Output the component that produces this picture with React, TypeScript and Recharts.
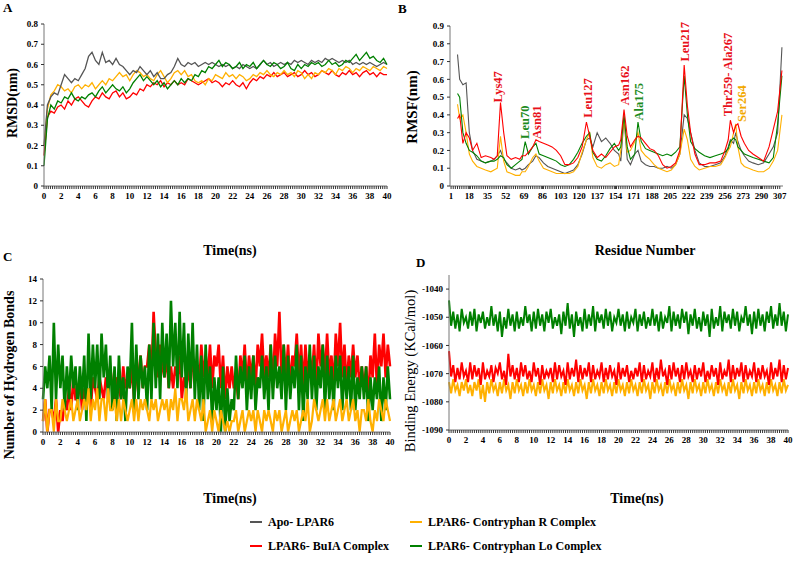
import React from "react";
import { LineChart, Line, XAxis, YAxis, ReferenceDot } from "recharts";

const FONT = '"Liberation Serif", "Times New Roman", serif';

const C_APO = "#555555";
const C_BUIA = "#ff0000";
const C_R = "#ffb000";
const C_LO = "#008000";

// ---- A: RMSD (nm), one value every 0.4 ns, 0..40 ns
const RMSD_STEP = 0.4;
const RMSD_APO = [
  0.2, 0.4, 0.44, 0.46, 0.45, 0.5, 0.55, 0.53, 0.51, 0.53,
  0.52, 0.55, 0.58, 0.64, 0.66, 0.62, 0.6, 0.66, 0.61, 0.62,
  0.6, 0.63, 0.6, 0.59, 0.57, 0.55, 0.57, 0.56, 0.59, 0.57,
  0.55, 0.57, 0.54, 0.56, 0.53, 0.53, 0.55, 0.56, 0.59, 0.63,
  0.6, 0.59, 0.61, 0.6, 0.61, 0.59, 0.6, 0.61, 0.6, 0.61,
  0.6, 0.59, 0.6, 0.59, 0.6, 0.58, 0.59, 0.58, 0.6, 0.59,
  0.58, 0.59, 0.58, 0.6, 0.62, 0.6, 0.61, 0.59, 0.6, 0.61,
  0.6, 0.61, 0.6, 0.62, 0.61, 0.62, 0.61, 0.6, 0.62, 0.61,
  0.62, 0.61, 0.63, 0.62, 0.63, 0.62, 0.61, 0.62, 0.61, 0.62,
  0.6, 0.61, 0.6, 0.61, 0.6, 0.61, 0.6, 0.59, 0.6, 0.61,
  0.6,
];
const RMSD_BUIA = [
  0.15, 0.34, 0.37, 0.36, 0.39, 0.4, 0.38, 0.42, 0.4, 0.43,
  0.44, 0.42, 0.4, 0.39, 0.42, 0.44, 0.43, 0.46, 0.44, 0.43,
  0.46, 0.47, 0.44, 0.46, 0.43, 0.44, 0.46, 0.45, 0.48, 0.47,
  0.5, 0.49, 0.51, 0.5, 0.52, 0.49, 0.51, 0.5, 0.52, 0.5,
  0.51, 0.5, 0.53, 0.52, 0.51, 0.5, 0.51, 0.52, 0.53, 0.51,
  0.52, 0.51, 0.49, 0.51, 0.5, 0.52, 0.5, 0.49, 0.51, 0.48,
  0.51, 0.53, 0.52, 0.54, 0.53, 0.55, 0.54, 0.56, 0.54, 0.55,
  0.56, 0.54, 0.55, 0.56, 0.54, 0.55, 0.57, 0.55, 0.56, 0.54,
  0.55, 0.57, 0.56, 0.55, 0.57, 0.55, 0.54, 0.56, 0.55, 0.57,
  0.55, 0.56, 0.54, 0.56, 0.57, 0.55, 0.56, 0.54, 0.56, 0.55,
  0.55,
];
const RMSD_R = [
  0.2, 0.38, 0.45, 0.47, 0.5, 0.49, 0.47, 0.48, 0.46, 0.49,
  0.5, 0.48, 0.5, 0.49, 0.51, 0.48, 0.5, 0.52, 0.5, 0.53,
  0.52, 0.54, 0.56, 0.54, 0.55, 0.52, 0.55, 0.57, 0.56, 0.54,
  0.55, 0.53, 0.52, 0.55, 0.57, 0.54, 0.51, 0.53, 0.56, 0.57,
  0.55, 0.57, 0.54, 0.55, 0.52, 0.51, 0.52, 0.5, 0.53, 0.52,
  0.55, 0.54, 0.53, 0.56, 0.54, 0.55, 0.53, 0.55, 0.54, 0.52,
  0.53, 0.55, 0.54, 0.56, 0.55, 0.57, 0.55, 0.54, 0.56, 0.55,
  0.57, 0.55, 0.56, 0.54, 0.57, 0.56, 0.53, 0.55, 0.53, 0.56,
  0.55, 0.57, 0.56, 0.58, 0.57, 0.55, 0.58, 0.57, 0.59, 0.58,
  0.56, 0.58, 0.57, 0.59, 0.58, 0.57, 0.59, 0.58, 0.57, 0.59,
  0.58,
];
const RMSD_LO = [
  0.1, 0.33, 0.4, 0.38, 0.42, 0.41, 0.44, 0.43, 0.46, 0.43,
  0.42, 0.44, 0.43, 0.45, 0.46, 0.44, 0.47, 0.49, 0.46, 0.48,
  0.5, 0.48, 0.47, 0.49, 0.46, 0.48, 0.51, 0.53, 0.55, 0.52,
  0.54, 0.52, 0.5, 0.52, 0.49, 0.51, 0.48, 0.5, 0.52, 0.5,
  0.53, 0.51, 0.53, 0.52, 0.55, 0.54, 0.57, 0.56, 0.59, 0.58,
  0.6, 0.62, 0.59, 0.61, 0.6, 0.58, 0.59, 0.61, 0.58, 0.6,
  0.59, 0.61, 0.58, 0.6, 0.62, 0.6, 0.59, 0.61, 0.6, 0.58,
  0.59, 0.61, 0.58, 0.57, 0.6, 0.58, 0.6, 0.59, 0.61, 0.6,
  0.61, 0.59, 0.6, 0.62, 0.6, 0.61, 0.59, 0.6, 0.62, 0.61,
  0.63, 0.65, 0.62, 0.64, 0.66, 0.63, 0.64, 0.62, 0.61, 0.63,
  0.6,
];
const RMSD_TICKS = [0, 0.1, 0.2, 0.3, 0.4, 0.5, 0.6, 0.7, 0.8];

// ---- B: RMSF (nm) per residue
const RESIDUES = [
  7, 9, 12, 15, 18, 21, 25, 29, 33, 38,
  41, 44, 47, 50, 53, 57, 61, 65, 67, 70,
  73, 77, 80, 83, 87, 91, 95, 99, 103, 107,
  111, 115, 119, 123, 127, 130, 133, 137, 141, 145,
  149, 153, 157, 159, 162, 165, 168, 172, 175, 178,
  182, 186, 190, 194, 198, 202, 206, 210, 214, 218,
  221, 224, 228, 232, 237, 242, 247, 252, 256, 259,
  261, 264, 266, 268, 271, 274, 278, 282, 287, 292,
  297, 301, 305, 309,
];
const RMSF_APO = [
  0.74, 0.6, 0.57, 0.58, 0.3, 0.2, 0.15, 0.14, 0.13, 0.14,
  0.15, 0.17, 0.2, 0.15, 0.13, 0.1, 0.09, 0.1, 0.09, 0.1,
  0.12, 0.14, 0.17, 0.16, 0.13, 0.11, 0.1, 0.09, 0.08, 0.07,
  0.08, 0.09, 0.12, 0.18, 0.26, 0.27, 0.22, 0.3, 0.25, 0.27,
  0.24, 0.2, 0.18, 0.14, 0.38, 0.15, 0.12, 0.18, 0.2, 0.14,
  0.12, 0.11, 0.11, 0.1, 0.1, 0.11, 0.1, 0.12, 0.18, 0.4,
  0.38, 0.3, 0.2, 0.13, 0.11, 0.11, 0.12, 0.13, 0.17, 0.22,
  0.26, 0.24, 0.3, 0.25, 0.2, 0.17, 0.14, 0.13, 0.12, 0.13,
  0.18, 0.22, 0.3, 0.78,
];
const RMSF_BUIA = [
  0.38, 0.4, 0.24, 0.3, 0.27, 0.2, 0.24, 0.16, 0.17, 0.16,
  0.15, 0.17, 0.47, 0.3, 0.17, 0.15, 0.16, 0.15, 0.17, 0.17,
  0.19, 0.22, 0.26, 0.25, 0.24, 0.23, 0.22, 0.2, 0.17, 0.12,
  0.12, 0.13, 0.16, 0.22, 0.36, 0.28, 0.2, 0.16, 0.18, 0.16,
  0.19, 0.22, 0.23, 0.26, 0.43, 0.28, 0.22, 0.26, 0.28, 0.27,
  0.24, 0.21, 0.2, 0.17, 0.12, 0.1, 0.11, 0.13, 0.2, 0.68,
  0.45, 0.3, 0.18, 0.12, 0.12, 0.13, 0.13, 0.14, 0.2, 0.26,
  0.37, 0.3, 0.34, 0.35, 0.28, 0.24, 0.2, 0.18, 0.16, 0.14,
  0.22, 0.32, 0.42, 0.65,
];
const RMSF_R = [
  0.46, 0.38, 0.4, 0.3, 0.18, 0.14, 0.11, 0.1, 0.09, 0.08,
  0.09, 0.1, 0.28, 0.14, 0.08, 0.07, 0.06, 0.06, 0.08, 0.08,
  0.11, 0.16, 0.18, 0.14, 0.1, 0.09, 0.08, 0.07, 0.07, 0.07,
  0.07, 0.08, 0.11, 0.19, 0.26, 0.3, 0.16, 0.11, 0.1, 0.12,
  0.13, 0.11, 0.12, 0.2, 0.38, 0.19, 0.2, 0.25, 0.3, 0.2,
  0.17, 0.15, 0.12, 0.1, 0.09, 0.08, 0.09, 0.12, 0.18, 0.32,
  0.26, 0.15, 0.11, 0.09, 0.1, 0.11, 0.11, 0.12, 0.16, 0.2,
  0.22, 0.3, 0.35, 0.22, 0.13, 0.11, 0.1, 0.09, 0.08, 0.08,
  0.1, 0.14, 0.2, 0.4,
];
const RMSF_LO = [
  0.52, 0.5, 0.3, 0.24, 0.2, 0.19, 0.17, 0.14, 0.13, 0.14,
  0.14, 0.15, 0.17, 0.16, 0.12, 0.1, 0.12, 0.14, 0.15, 0.25,
  0.18, 0.22, 0.24, 0.18, 0.17, 0.16, 0.15, 0.14, 0.12, 0.11,
  0.12, 0.15, 0.19, 0.24, 0.28, 0.3, 0.19, 0.15, 0.14, 0.17,
  0.21, 0.24, 0.2, 0.22, 0.4, 0.22, 0.15, 0.18, 0.36, 0.25,
  0.21, 0.2, 0.19, 0.18, 0.17, 0.18, 0.17, 0.19, 0.22, 0.62,
  0.4, 0.25, 0.21, 0.19, 0.17, 0.16, 0.17, 0.18, 0.19, 0.21,
  0.25, 0.27, 0.26, 0.22, 0.2, 0.18, 0.17, 0.16, 0.15, 0.14,
  0.13, 0.16, 0.35, 0.62,
];
const RMSF_TICKS = [0, 0.1, 0.2, 0.3, 0.4, 0.5, 0.6, 0.7, 0.8, 0.9];
const RESIDUE_LABELS = [1, 18, 35, 52, 69, 86, 103, 120, 137, 154, 171, 188, 205, 222, 239, 256, 273, 290, 307];

// peak annotations: residue, RMSF at the foot of the text, which complex
const PEAKS = [
  { res: 44.4, val: 0.47, text: "Lys47", key: "bu" },
  { res: 69.8, val: 0.265, text: "Leu70", key: "lo" },
  { res: 80.7, val: 0.265, text: "Asn81", key: "bu" },
  { res: 128.2, val: 0.384, text: "Leu127", key: "bu" },
  { res: 163, val: 0.455, text: "Asn162", key: "bu" },
  { res: 176.3, val: 0.368, text: "Ala175", key: "lo" },
  { res: 218.8, val: 0.7, text: "Leu217", key: "bu" },
  { res: 259.2, val: 0.392, text: "Thr259- Ala267", key: "bu" },
  { res: 271.6, val: 0.36, text: "Ser264", key: "r" },
];

// ---- C: number of hydrogen bonds, one value every 0.25 ns
const HB_STEP = 0.25;
const HB_LO = [
  3, 6, 4, 7, 2, 10, 3, 8, 4, 7, 2, 6, 3, 7, 4, 6, 2, 6, 3, 7,
  1, 9, 3, 8, 4, 8, 3, 9, 5, 8, 3, 7, 2, 6, 1, 7, 3, 5, 1, 6,
  4, 10, 2, 8, 3, 7, 4, 6, 2, 8, 3, 10, 4, 9, 3, 10, 5, 9, 4, 12,
  6, 10, 4, 11, 5, 10, 3, 9, 4, 10, 3, 8, 2, 7, 1, 8, 3, 6, 1, 5,
  2, 5, 0, 6, 0, 4, 1, 3, 2, 7, 3, 6, 4, 7, 2, 6, 3, 7, 2, 5,
  4, 7, 3, 6, 2, 8, 3, 7, 4, 6, 3, 8, 2, 7, 3, 6, 4, 8, 2, 7,
  1, 6, 3, 8, 3, 7, 2, 6, 4, 8, 2, 7, 3, 6, 2, 7, 4, 7, 2, 6,
  3, 6, 2, 7, 2, 5, 3, 6, 3, 6, 1, 5, 2, 5, 3, 6, 1, 5, 2, 6,
  3,
];
const HB_BUIA = [
  1, 3, 0, 2, 2, 1, 3, 0, 2, 1, 3, 2, 4, 2, 5, 3, 3, 5, 2, 4,
  3, 4, 2, 5, 4, 3, 5, 4, 3, 5, 4, 6, 4, 3, 5, 4, 3, 6, 4, 5,
  4, 6, 3, 5, 5, 7, 4, 6, 6, 8, 5, 11, 7, 5, 8, 6, 5, 7, 4, 6,
  4, 6, 5, 7, 3, 5, 4, 6, 4, 7, 5, 6, 4, 8, 5, 7, 5, 8, 4, 7,
  6, 8, 4, 7, 3, 6, 4, 6, 4, 5, 3, 7, 5, 8, 4, 7, 5, 7, 4, 8,
  6, 9, 5, 7, 5, 8, 4, 9, 6, 11, 5, 8, 5, 8, 4, 7, 6, 9, 5, 8,
  4, 8, 5, 7, 5, 8, 4, 9, 6, 8, 5, 9, 5, 7, 4, 9, 6, 10, 5, 8,
  4, 7, 5, 8, 5, 7, 4, 6, 4, 6, 3, 7, 5, 9, 4, 8, 6, 9, 5, 8,
  6,
];
const HB_R = [
  1, 3, 0, 2, 2, 0, 3, 1, 1, 3, 2, 1, 2, 3, 1, 2, 3, 1, 2, 3,
  2, 4, 1, 3, 2, 4, 1, 3, 3, 1, 4, 2, 2, 3, 1, 3, 1, 3, 2, 1,
  2, 3, 1, 3, 1, 3, 2, 3, 2, 1, 3, 2, 3, 1, 2, 3, 2, 3, 1, 3,
  2, 4, 1, 3, 3, 2, 4, 1, 2, 3, 1, 3, 2, 1, 3, 0, 1, 2, 0, 2,
  1, 0, 2, 1, 0, 1, 0, 1, 1, 2, 0, 1, 2, 0, 1, 2, 1, 2, 0, 2,
  1, 0, 2, 1, 2, 1, 0, 2, 1, 2, 0, 1, 2, 0, 1, 2, 1, 2, 0, 1,
  2, 1, 3, 0, 1, 3, 2, 1, 2, 3, 1, 3, 1, 2, 3, 1, 2, 3, 1, 2,
  3, 1, 2, 3, 1, 2, 0, 2, 2, 1, 3, 1, 0, 2, 1, 3, 2, 1, 3, 2,
  1,
];
const HB_TICKS = [0, 2, 4, 6, 8, 10, 12, 14];

// ---- D: binding energy (KCal/mol), one value every 0.25 ns
const BE_STEP = 0.25;
const BE_LO = [
  -1044, -1053, -1048, -1054, -1049, -1055, -1047, -1052, -1050, -1054, -1048, -1053, -1047, -1055, -1049, -1052,
  -1048, -1054, -1050, -1053, -1046, -1053, -1049, -1055, -1048, -1057, -1050, -1054, -1047, -1053, -1049, -1055,
  -1048, -1054, -1050, -1053, -1046, -1052, -1049, -1055, -1048, -1054, -1047, -1053, -1049, -1055, -1048, -1052,
  -1047, -1054, -1050, -1053, -1049, -1056, -1048, -1053, -1045, -1054, -1049, -1057, -1048, -1053, -1050, -1055,
  -1047, -1054, -1049, -1053, -1046, -1055, -1048, -1052, -1049, -1054, -1047, -1053, -1048, -1055, -1050, -1052,
  -1047, -1053, -1049, -1055, -1048, -1054, -1050, -1052, -1047, -1055, -1049, -1053, -1048, -1054, -1050, -1053,
  -1047, -1053, -1049, -1055, -1048, -1054, -1050, -1052, -1046, -1055, -1048, -1053, -1049, -1054, -1047, -1052,
  -1048, -1056, -1049, -1053, -1047, -1054, -1050, -1055, -1048, -1053, -1049, -1057, -1047, -1054, -1050, -1053,
  -1046, -1055, -1048, -1052, -1049, -1054, -1047, -1053, -1048, -1055, -1050, -1052, -1046, -1053, -1049, -1056,
  -1048, -1054, -1047, -1053, -1049, -1055, -1048, -1052, -1046, -1054, -1049, -1053, -1045, -1053, -1048, -1055,
  -1049,
];
const BE_BUIA = [
  -1062, -1071, -1067, -1073, -1068, -1072, -1066, -1071, -1069, -1073, -1066, -1072, -1067, -1071, -1068, -1074,
  -1066, -1072, -1069, -1071, -1067, -1073, -1068, -1070, -1066, -1072, -1069, -1074, -1063, -1071, -1067, -1072,
  -1068, -1073, -1066, -1071, -1067, -1072, -1069, -1073, -1066, -1071, -1068, -1074, -1067, -1072, -1069, -1071,
  -1068, -1073, -1066, -1072, -1067, -1071, -1069, -1074, -1066, -1072, -1068, -1071, -1065, -1073, -1067, -1072,
  -1068, -1071, -1066, -1073, -1067, -1072, -1069, -1071, -1066, -1073, -1068, -1072, -1067, -1071, -1069, -1074,
  -1066, -1072, -1068, -1071, -1067, -1073, -1069, -1072, -1068, -1071, -1066, -1073, -1067, -1072, -1069, -1071,
  -1066, -1073, -1068, -1072, -1065, -1071, -1069, -1074, -1067, -1072, -1066, -1071, -1068, -1073, -1067, -1072,
  -1066, -1071, -1069, -1073, -1067, -1072, -1068, -1071, -1066, -1073, -1069, -1072, -1067, -1071, -1068, -1074,
  -1066, -1072, -1069, -1071, -1065, -1073, -1067, -1072, -1068, -1071, -1066, -1073, -1067, -1072, -1069, -1071,
  -1066, -1073, -1068, -1072, -1067, -1071, -1069, -1074, -1066, -1072, -1068, -1071, -1065, -1073, -1067, -1072,
  -1068,
];
const BE_R = [
  -1073, -1077, -1072, -1076, -1074, -1078, -1073, -1076, -1072, -1077, -1074, -1078, -1073, -1076, -1072, -1079,
  -1074, -1080, -1073, -1077, -1072, -1076, -1074, -1078, -1073, -1077, -1072, -1076, -1074, -1079, -1073, -1077,
  -1072, -1076, -1074, -1078, -1073, -1077, -1072, -1076, -1074, -1078, -1073, -1077, -1072, -1076, -1074, -1079,
  -1073, -1077, -1072, -1076, -1074, -1078, -1073, -1077, -1072, -1076, -1074, -1078, -1073, -1077, -1072, -1076,
  -1074, -1079, -1073, -1077, -1072, -1076, -1074, -1078, -1073, -1077, -1072, -1076, -1074, -1078, -1073, -1077,
  -1072, -1076, -1074, -1078, -1073, -1077, -1072, -1076, -1074, -1078, -1073, -1077, -1072, -1076, -1074, -1079,
  -1073, -1077, -1072, -1076, -1074, -1078, -1073, -1077, -1072, -1076, -1074, -1078, -1073, -1077, -1072, -1076,
  -1074, -1079, -1073, -1077, -1072, -1076, -1074, -1078, -1073, -1077, -1072, -1076, -1074, -1078, -1073, -1077,
  -1072, -1076, -1074, -1078, -1073, -1077, -1072, -1076, -1074, -1079, -1073, -1077, -1072, -1076, -1074, -1078,
  -1073, -1077, -1072, -1076, -1074, -1078, -1073, -1077, -1072, -1076, -1074, -1078, -1073, -1077, -1072, -1076,
  -1074,
];
const BE_TICKS = [-1090, -1080, -1070, -1060, -1050, -1040];

const LEGEND = [
  { name: "Apo- LPAR6", color: C_APO },
  { name: "LPAR6- BuIA Complex", color: C_BUIA },
  { name: "LPAR6- Contryphan R Complex", color: C_R },
  { name: "LPAR6- Contryphan Lo Complex", color: C_LO },
];

const PEAK_COLORS: Record<string, string> = { bu: "#e8101a", lo: "#1e8c1e", r: "#f2a900" };

const rmsdRows = RMSD_APO.map((v, i) => ({
  t: i * RMSD_STEP,
  apo: v,
  bu: RMSD_BUIA[i],
  r: RMSD_R[i],
  lo: RMSD_LO[i],
}));
const rmsfRows = RESIDUES.map((res, i) => ({
  res,
  apo: RMSF_APO[i],
  bu: RMSF_BUIA[i],
  r: RMSF_R[i],
  lo: RMSF_LO[i],
}));
const hbRows = HB_LO.map((v, i) => ({ t: i * HB_STEP, lo: v, bu: HB_BUIA[i], r: HB_R[i] }));
const beRows = BE_LO.map((v, i) => ({ t: i * BE_STEP, lo: v, bu: BE_BUIA[i], r: BE_R[i] }));

// minor ticks every 0.25 ns, labels on even ns only
const timeTicks = Array.from({ length: 161 }, (_, i) => i * 0.25);
const timeLabel = (v: number) => (Number.isInteger(v) && v % 2 === 0 ? String(v) : "");
const residueTicks = Array.from(
  new Set([...RESIDUE_LABELS, ...Array.from({ length: 154 }, (_, i) => 1 + 2 * i)])
).sort((a, b) => a - b);
const residueLabel = (v: number) => (RESIDUE_LABELS.includes(v) ? String(v) : "");

const tickStyle = { fontSize: 9, fontWeight: "bold", fill: "#000", fontFamily: FONT };
const axisLine = { stroke: "#777" };
const tickLine = { stroke: "#333" };

const PeakShape = (props: any) => {
  const { cx, cy, text, color } = props;
  return (
    <text
      x={cx}
      y={cy}
      transform={`rotate(-90 ${cx} ${cy})`}
      textAnchor="start"
      dominantBaseline="central"
      fill={color}
      fontSize={12.5}
      fontWeight="bold"
      fontFamily={FONT}
    >
      {text}
    </text>
  );
};

function Abs({ x, y, children, style }: any) {
  return (
    <div style={{ position: "absolute", left: x, top: y, whiteSpace: "nowrap", lineHeight: 1, ...style }}>
      {children}
    </div>
  );
}

function YTitle({ x, y, text, size = 14, weight = "bold" }: any) {
  return (
    <div
      style={{
        position: "absolute",
        left: x,
        top: y,
        transform: "translate(-50%, -50%) rotate(-90deg)",
        whiteSpace: "nowrap",
        fontSize: size,
        fontWeight: weight,
        lineHeight: 1,
      }}
    >
      {text}
    </div>
  );
}

function XTitle({ x, y, text }: any) {
  return (
    <div
      style={{
        position: "absolute",
        left: x,
        top: y,
        transform: "translate(-50%, -50%)",
        whiteSpace: "nowrap",
        fontSize: 14,
        fontWeight: "bold",
        lineHeight: 1,
      }}
    >
      {text}
    </div>
  );
}

export default function App() {
  return (
    <div
      style={{
        position: "absolute",
        left: 0,
        top: 0,
        width: 800,
        height: 561,
        background: "#fff",
        fontFamily: FONT,
        color: "#000",
        overflow: "hidden",
      }}
    >
      {/* A */}
      <div style={{ position: "absolute", left: 0, top: 0 }}>
        <LineChart width={395} height={262} data={rmsdRows} margin={{ top: 24, right: 8, bottom: 46, left: 0 }}>
          <XAxis
            dataKey="t"
            type="number"
            domain={[0, 40]}
            ticks={timeTicks}
            interval={0}
            tickFormatter={timeLabel}
            tick={tickStyle}
            tickSize={3}
            tickMargin={4}
            axisLine={axisLine}
            tickLine={tickLine}
          />
          <YAxis
            width={44}
            domain={[0, 0.8]}
            ticks={RMSD_TICKS}
            interval={0}
            tick={tickStyle}
            tickSize={3}
            tickMargin={3}
            axisLine={axisLine}
            tickLine={tickLine}
          />
          <Line dataKey="bu" stroke={C_BUIA} strokeWidth={1.3} dot={false} isAnimationActive={false} />
          <Line dataKey="r" stroke={C_R} strokeWidth={1.3} dot={false} isAnimationActive={false} />
          <Line dataKey="apo" stroke={C_APO} strokeWidth={1.3} dot={false} isAnimationActive={false} />
          <Line dataKey="lo" stroke={C_LO} strokeWidth={1.3} dot={false} isAnimationActive={false} />
        </LineChart>
      </div>

      {/* B */}
      <div style={{ position: "absolute", left: 395, top: 0 }}>
        <LineChart width={400} height={262} data={rmsfRows} margin={{ top: 26, right: 12, bottom: 46, left: 0 }}>
          <XAxis
            dataKey="res"
            type="number"
            domain={[0, 310]}
            ticks={residueTicks}
            interval={0}
            tickFormatter={residueLabel}
            tick={tickStyle}
            tickSize={3}
            tickMargin={4}
            axisLine={axisLine}
            tickLine={tickLine}
          />
          <YAxis
            width={55}
            domain={[0, 0.9]}
            ticks={RMSF_TICKS}
            interval={0}
            tick={tickStyle}
            tickSize={3}
            tickMargin={3}
            axisLine={axisLine}
            tickLine={tickLine}
          />
          <Line dataKey="apo" stroke={C_APO} strokeWidth={1.1} dot={false} isAnimationActive={false} />
          <Line dataKey="r" stroke={C_R} strokeWidth={1.1} dot={false} isAnimationActive={false} />
          <Line dataKey="lo" stroke={C_LO} strokeWidth={1.1} dot={false} isAnimationActive={false} />
          <Line dataKey="bu" stroke={C_BUIA} strokeWidth={1.1} dot={false} isAnimationActive={false} />
          {PEAKS.map((p) => (
            <ReferenceDot
              key={p.text}
              x={p.res}
              y={p.val}
              r={0}
              ifOverflow="visible"
              shape={(props: any) => <PeakShape {...props} text={p.text} color={PEAK_COLORS[p.key]} />}
            />
          ))}
        </LineChart>
      </div>

      {/* C */}
      <div style={{ position: "absolute", left: 0, top: 255 }}>
        <LineChart width={395} height={250} data={hbRows} margin={{ top: 24, right: 5, bottom: 43, left: 0 }}>
          <XAxis
            dataKey="t"
            type="number"
            domain={[0, 40]}
            ticks={timeTicks}
            interval={0}
            tickFormatter={timeLabel}
            tick={tickStyle}
            tickSize={3}
            tickMargin={4}
            axisLine={axisLine}
            tickLine={tickLine}
          />
          <YAxis
            width={43}
            domain={[0, 14]}
            ticks={HB_TICKS}
            interval={0}
            tick={tickStyle}
            tickSize={3}
            tickMargin={3}
            axisLine={axisLine}
            tickLine={tickLine}
          />
          <Line dataKey="bu" stroke={C_BUIA} strokeWidth={2.6} dot={false} isAnimationActive={false} />
          <Line dataKey="lo" stroke={C_LO} strokeWidth={2.6} dot={false} isAnimationActive={false} />
          <Line dataKey="r" stroke={C_R} strokeWidth={2.2} dot={false} isAnimationActive={false} />
        </LineChart>
      </div>

      {/* D */}
      <div style={{ position: "absolute", left: 395, top: 255 }}>
        <LineChart width={400} height={250} data={beRows} margin={{ top: 20, right: 7, bottom: 45, left: 0 }}>
          <XAxis
            dataKey="t"
            type="number"
            domain={[0, 40]}
            ticks={timeTicks}
            interval={0}
            tickFormatter={timeLabel}
            tick={tickStyle}
            tickSize={3}
            tickMargin={4}
            axisLine={axisLine}
            tickLine={tickLine}
          />
          <YAxis
            width={54}
            domain={[-1090, -1035]}
            ticks={BE_TICKS}
            interval={0}
            tick={tickStyle}
            tickSize={3}
            tickMargin={3}
            axisLine={axisLine}
            tickLine={tickLine}
          />
          <Line dataKey="r" stroke={C_R} strokeWidth={2} dot={false} isAnimationActive={false} />
          <Line dataKey="bu" stroke={C_BUIA} strokeWidth={2} dot={false} isAnimationActive={false} />
          <Line dataKey="lo" stroke={C_LO} strokeWidth={2} dot={false} isAnimationActive={false} />
        </LineChart>
      </div>

      {/* panel letters */}
      <Abs x={3} y={1} style={{ fontSize: 13, fontWeight: "bold" }}>A</Abs>
      <Abs x={398} y={2} style={{ fontSize: 13, fontWeight: "bold" }}>B</Abs>
      <Abs x={3} y={250} style={{ fontSize: 13, fontWeight: "bold" }}>C</Abs>
      <Abs x={416} y={256} style={{ fontSize: 13, fontWeight: "bold" }}>D</Abs>

      {/* axis titles */}
      <YTitle x={13} y={103} text="RMSD(nm)" />
      <XTitle x={230} y={251} text="Time(ns)" />
      <YTitle x={412} y={107} text="RMSF(nm)" size={15} />
      <XTitle x={645} y={251} text="Residue Number" />
      <YTitle x={10} y={375} text="Number of Hydrogen Bonds" />
      <XTitle x={230} y={499} text="Time(ns)" />
      <YTitle x={410} y={371} text="Binding Energy (KCal/mol)" size={14.5} weight="normal" />
      <XTitle x={637} y={499} text="Time(ns)" />

      {/* legend */}
      {LEGEND.map((item, i) => {
        const col = i < 2 ? 0 : 1;
        const row = i % 2;
        const left = col === 0 ? 250 : 410;
        const top = row === 0 ? 522 : 546;
        return (
          <div
            key={item.name}
            style={{ position: "absolute", left, top: top - 7, display: "flex", alignItems: "center", height: 14 }}
          >
            <div style={{ width: 12, height: 1.5, background: item.color, marginRight: 6 }} />
            <span style={{ fontSize: 12, fontWeight: "bold", whiteSpace: "nowrap" }}>{item.name}</span>
          </div>
        );
      })}
    </div>
  );
}
